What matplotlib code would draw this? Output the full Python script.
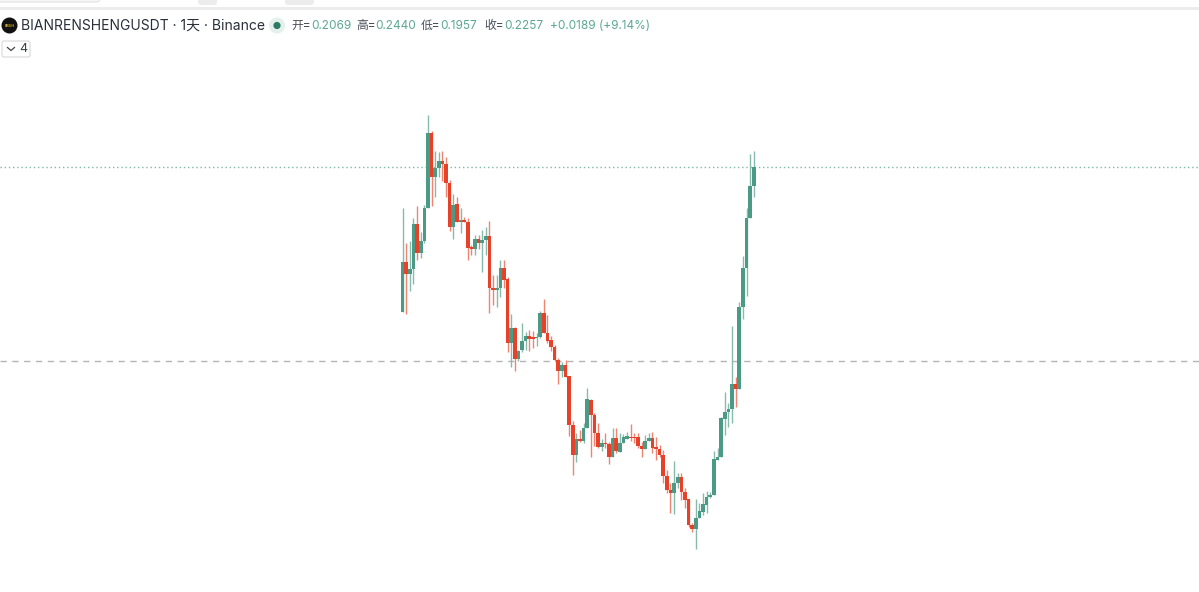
import matplotlib
matplotlib.use("Agg")
import matplotlib.pyplot as plt
from matplotlib.patches import Circle, FancyBboxPatch, Rectangle

plt.rcParams['font.family'] = ['Inter', 'Noto Sans CJK SC', 'DejaVu Sans']

# Candle values as levels on the chart's hidden (log-like) price scale
opens = [280,330,317.7,323,368,338.7,351,384.3,459,415.3,423.7,431.3,428,408.7,365,387.7,370.3,371.7,370.3,344.3,
         343,352.7,348.7,352,356.3,304.3,302.3,304.3,324.3,313,249.3,264.3,232.7,242,251.3,256,254.7,253.7,254.7,278.7,
         259.3,252,244.7,232,221,227,216,167,137,152.7,151,163.7,192,177,158.7,145.3,148.7,147.7,135.3,153.7,
         140.3,149.3,153,154.7,154.7,155.3,146.3,143,151,153.7,145.3,143,137,116.3,102,98.7,108.7,115.3,100.3,92.7,
         67,63,74.3,80.3,87,95.3,97,132,134.7,173,180,182.7,207.7,203,285.3,324.3,374.3,406.3]
highs = [383.7,349.3,351.3,374,386.3,360.3,387,477,461,441.3,439.7,441.3,435.3,412,397.7,395.3,383.7,375.3,374.3,347,
         357,357,362,365.3,371,317,317,332,332,315.3,278,265,242,268.7,260.3,262,261.3,259.3,281.3,292.7,
         277,256,247,233.7,230.3,232,216,171,159.3,162,169,203.7,193,179.3,168.7,152.7,158.7,150.3,163.7,163.7,
         159,158,160.3,168,159.3,159.3,150.3,157,159.3,160.3,155.3,147,142,122,108.7,131,118.7,118.7,103.7,92.7,
         68.7,93,89.3,98.7,101.3,100.3,141.3,143.7,175.3,200.3,188.7,266,214.7,290.3,336,383.7,438,441.3]
lows = [280,278,301,308,332,333.7,349,384,386,395.3,415,411,395.3,361,352.7,370,358.7,369.7,332,337,
        337,343,320.3,337,279,287,285.3,295.3,303.7,240.3,225.3,221.3,231.3,240.3,242,241.3,243.7,246,253.7,259.3,
        248.7,241.3,231.3,208,214.7,214.7,156,117,129.7,150.3,149,163.7,135.3,146,143.7,141.3,143.7,128,135.3,139.3,
        140,148.7,152.7,151,148.7,143.7,134.7,142.7,151,138.7,132,135.3,108.7,98.7,79.3,77.7,104,92,83.7,65.3,
        60.3,43,73.7,77,78.7,94,97,132,134.7,157,165.3,169,185.3,203,272.7,296,374,395.3]
closes = [330,318,322.7,368,339.3,351,384.3,459,415.3,423.7,431.3,428,409.3,365,387,370.3,371.7,370.3,343.7,343,
          352.7,348.7,352,356.3,304.3,302.3,304.3,324.3,312,249.3,263.7,232.7,241.3,251,256,252.7,252.7,254.7,278.7,259.3,
          251,245.3,232,221,227,215.3,167,137,152.7,151,163.7,192.7,177,158.7,144.7,148.7,147.7,134.7,153.7,141.3,
          148.7,155.3,156,153.7,153.7,146,143,151,153.7,143.7,143,137,116.3,102,98.7,108.7,115.3,100.3,92,67,
          63,74.3,81,87.7,95.3,97,132.7,134.7,173.7,180,182.7,207.7,203,285.3,323.7,374.3,406,424.7]
last_close_level = 424.7
midline_level = 231
symbol_title = "BIANRENSHENGUSDT · 1天 · Binance"
legend_labels = ["开=", "高=", "低=", "收="]
legend_values = ["0.2069", "0.2440", "0.1957", "0.2257"]
legend_change = "+0.0189 (+9.14%)"
collapsed_count = "4"

W, H = 1199, 592
GREEN, RED = "#4a9a85", "#e8412a"
WICK_G, WICK_R = "#86bbab", "#ef8472"

fig = plt.figure(figsize=(W / 100, H / 100), dpi=100, facecolor="white")
ax = fig.add_axes([0, 0, 1, 1])
ax.axis("off")
step = 3.62
first = 402.6
ax.set_xlim(-first / step, (W - first) / step)
ax.set_ylim(0, H)

ax.axhline(last_close_level + 0.5, color="#7db9a8", lw=1, ls=(0, (1, 2)), zorder=1)
ax.axhline(midline_level + 0.5, color="#b4b4b4", lw=1, ls=(0, (4.5, 4)), zorder=1)

for i, (o, h, l, c) in enumerate(zip(opens, highs, lows, closes)):
    up = c >= o
    ax.plot([i, i], [l, h], color=WICK_G if up else WICK_R, lw=1.0,
            solid_capstyle="butt", zorder=2)
    ax.bar(i, max(abs(c - o), 1.6), bottom=min(o, c), width=1.0,
           color=GREEN if up else RED, linewidth=0, zorder=3)

# Everything in the header lives in an overlay with figure-pixel coordinates
ov = fig.add_axes([0, 0, 1, 1], facecolor="none")
ov.axis("off")
ov.set_xlim(0, W)
ov.set_ylim(H, 0)

ov.add_patch(Rectangle((0, 7), W, 3, color="#ececec", lw=0))
ov.add_patch(FancyBboxPatch((198, -6), 19, 11, boxstyle="round,pad=0,rounding_size=3", fc="#ececec", ec="none"))
ov.add_patch(FancyBboxPatch((285, -6), 29, 11, boxstyle="round,pad=0,rounding_size=3", fc="#ececec", ec="none"))
ov.add_patch(FancyBboxPatch((-8, -6), 108, 8, boxstyle="round,pad=0,rounding_size=3", fc="#f6f6f6", ec="#e4e4e4", lw=0.8))

ov.add_patch(Circle((9.5, 25.5), 8, fc="#111111", ec="none"))
ov.text(9.5, 25.8, "BRUH", color="#c9a227", fontsize=2.6, ha="center", va="center", fontweight="bold")
ov.text(21, 26, symbol_title, color="#2a2e39", fontsize=10.0, ha="left", va="center")

ov.add_patch(Circle((277, 25.5), 8, fc="#e3f0ec", ec="none"))
ov.add_patch(Circle((277, 25.5), 3.6, fc="#2f7a66", ec="none"))

for lab, lx, val, vx in zip(legend_labels, [292, 357, 421, 485], legend_values, [312, 376, 440.5, 505]):
    ov.text(lx - 0.5, 26, lab, color="#4a4e59", fontsize=8.5, ha="left", va="center")
    ov.text(vx - 0.5, 26, val, color="#5ca893", fontsize=8.5, ha="left", va="center")
ov.text(550, 26, legend_change, color="#5ca893", fontsize=8.5, ha="left", va="center")

ov.add_patch(FancyBboxPatch((2, 41), 28, 16, boxstyle="round,pad=0,rounding_size=2", fc="white", ec="#dcdcdc", lw=0.9))
ov.plot([7.5, 11, 14.5], [47.5, 50.5, 47.5], color="#444444", lw=0.9)
ov.text(19, 49, collapsed_count, color="#3a3e49", fontsize=9, ha="left", va="center")

fig.savefig("out.png", dpi=100, facecolor="white")
